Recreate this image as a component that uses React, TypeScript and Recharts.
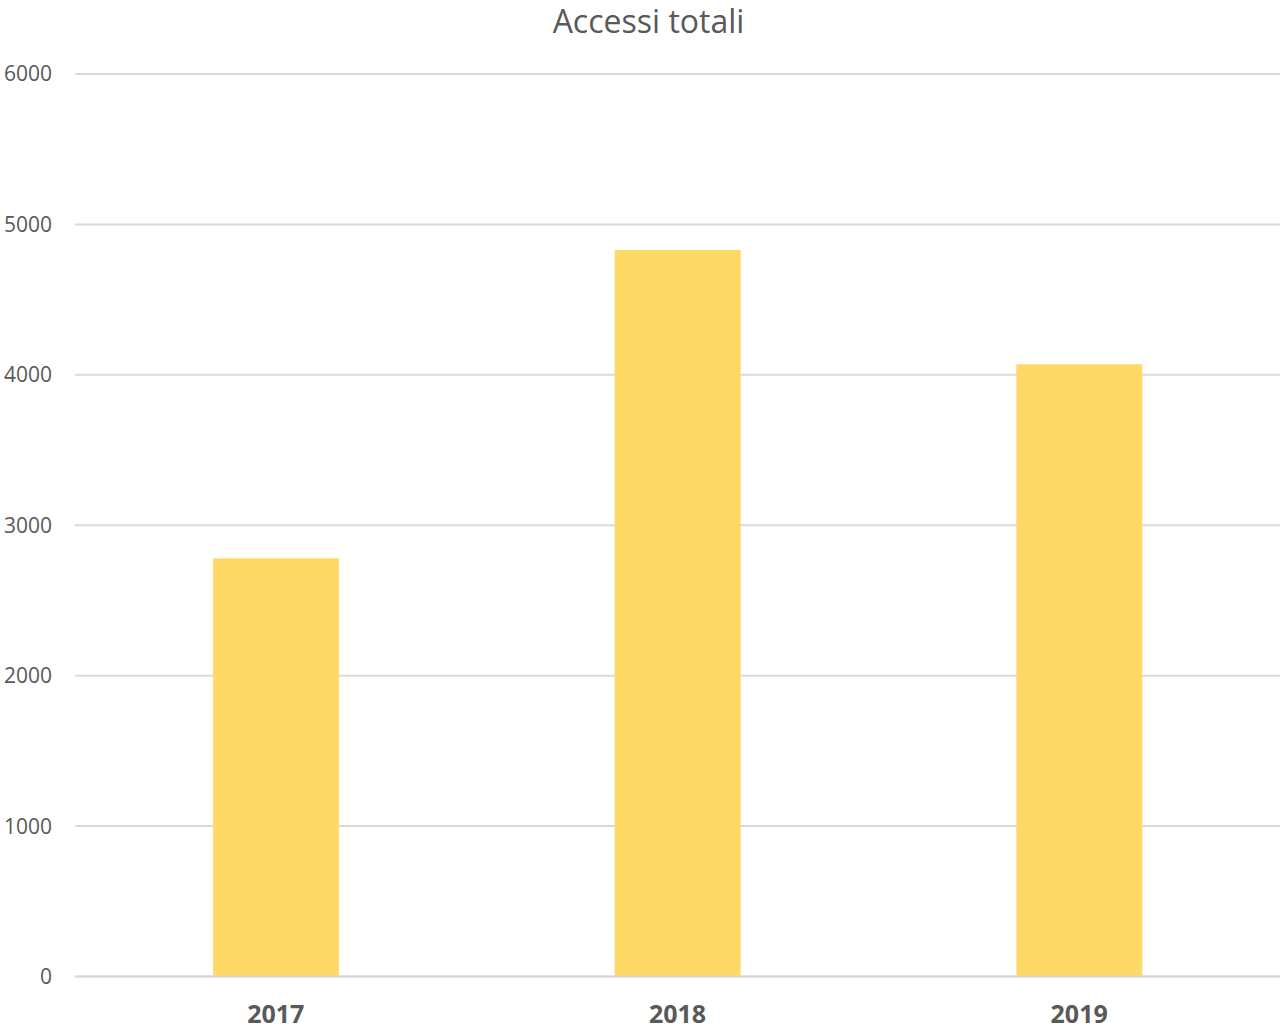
import React from 'react';
import { BarChart, Bar, XAxis, YAxis, CartesianGrid } from 'recharts';

const years = ['2017', '2018', '2019'];
const accessi = [2780, 4830, 4070];
const yTicks = [0, 1000, 2000, 3000, 4000, 5000, 6000];

const data = years.map((year, i) => ({ year, accessi: accessi[i] }));

const textColor = '#595959';
const font = '"Open Sans", sans-serif';

const App: React.FC = () => {
  return (
    <div style={{ position: 'absolute', left: 0, top: 0, width: 1281, height: 1034, fontFamily: font }}>
      {/* Title */}
      <div
        style={{
          position: 'absolute',
          left: 0,
          top: 5,
          width: 1297,
          textAlign: 'center',
          fontSize: 32,
          lineHeight: '32px',
          color: textColor,
        }}
      >
        Accessi totali
      </div>

      <BarChart
        width={1281}
        height={1034}
        data={data}
        margin={{ top: 74, right: 1, bottom: 0.5, left: 0 }}
      >
        <CartesianGrid horizontal vertical={false} stroke="#d9d9d9" strokeWidth={2} />
        <XAxis
          dataKey="year"
          height={57}
          axisLine={{ stroke: '#d9d9d9', strokeWidth: 2 }}
          tickLine={false}
          tickSize={0}
          tickMargin={29}
          tick={{ fill: textColor, fontSize: 25, fontWeight: 700, fontFamily: font }}
        />
        <YAxis
          width={75}
          domain={[0, 6000]}
          ticks={yTicks}
          axisLine={false}
          tickLine={false}
          tickSize={0}
          tickMargin={23}
          tick={{ fill: textColor, fontSize: 21, fontFamily: font }}
        />
        <Bar dataKey="accessi" fill="#FFD966" barSize={126} isAnimationActive={false} />
      </BarChart>
    </div>
  );
};

export default App;
